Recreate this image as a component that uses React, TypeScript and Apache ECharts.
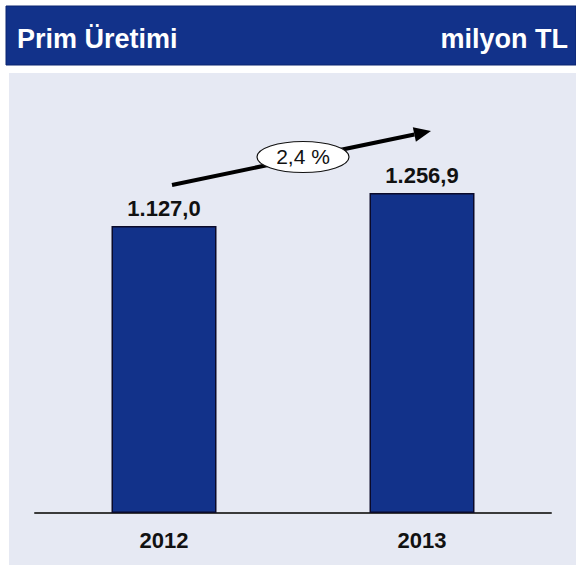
import React, { useEffect, useRef } from "react";
import * as echarts from "echarts";

const categories = ["2012", "2013"];
const values = [1127.0, 1256.9];
const valueLabels = ["1.127,0", "1.256,9"];
const titleText = "Prim Üretimi";
const unitText = "milyon TL";
const growthText = "2,4 %";

const NAVY = "#12328a";

export default function App() {
  const ref = useRef<HTMLDivElement>(null);
  useEffect(() => {
    if (!ref.current) return;
    const chart = echarts.init(ref.current, undefined, { renderer: "svg" });
    // arrow geometry (annotation)
    const sx = 172, sy = 185, tx = 431, ty = 131;
    const dx = tx - sx, dy = ty - sy;
    const len = Math.sqrt(dx * dx + dy * dy);
    const ux = dx / len, uy = dy / len;
    const nx = -uy, ny = ux;
    const headL = 17, headW = 7.5;
    const bx = tx - headL * ux, by = ty - headL * uy;
    chart.setOption({
      animation: false,
      backgroundColor: "#ffffff",
      grid: { left: 35, right: 25, top: 131, bottom: 54 },
      xAxis: {
        type: "category",
        data: categories,
        axisLine: { show: true, lineStyle: { color: "#3a3a3a", width: 2 } },
        axisTick: { show: false },
        axisLabel: {
          color: "#111111",
          fontFamily: "Liberation Sans, Arial, sans-serif",
          fontWeight: "bold",
          fontSize: 22,
          margin: 16,
        },
      },
      yAxis: {
        type: "value",
        min: 0,
        max: 1500,
        show: false,
        splitLine: { show: false },
      },
      graphic: [
        {
          type: "rect",
          z: -10,
          silent: true,
          shape: { x: 6, y: 6, width: 570, height: 59 },
          style: { fill: NAVY, stroke: "#0b2570", lineWidth: 1 },
        },
        {
          type: "text",
          z: 10,
          x: 17,
          y: 39,
          style: {
            text: titleText,
            fill: "#ffffff",
            font: "bold 27px 'Liberation Sans', Arial, sans-serif",
            textVerticalAlign: "middle",
            verticalAlign: "middle",
          },
        },
        {
          type: "text",
          z: 10,
          x: 568,
          y: 39,
          style: {
            text: unitText,
            fill: "#ffffff",
            font: "bold 27px 'Liberation Sans', Arial, sans-serif",
            align: "right",
            verticalAlign: "middle",
          },
        },
        {
          type: "rect",
          z: -10,
          silent: true,
          shape: { x: 9, y: 73, width: 567, height: 492 },
          style: { fill: "#e6e9f3" },
        },
        {
          type: "line",
          z: 20,
          shape: { x1: sx, y1: sy, x2: bx, y2: by },
          style: { stroke: "#000000", lineWidth: 4 },
        },
        {
          type: "polygon",
          z: 20,
          shape: {
            points: [
              [tx, ty],
              [bx + headW * nx, by + headW * ny],
              [bx - headW * nx, by - headW * ny],
            ],
          },
          style: { fill: "#000000" },
        },
        {
          type: "ellipse",
          z: 30,
          shape: { cx: 303, cy: 157, rx: 46, ry: 15.5 },
          style: { fill: "#ffffff", stroke: "#111111", lineWidth: 1.2 },
        },
        {
          type: "text",
          z: 31,
          x: 303,
          y: 156,
          style: {
            text: growthText,
            fill: "#111111",
            font: "21px 'Liberation Sans', Arial, sans-serif",
            align: "center",
            verticalAlign: "middle",
          },
        },
      ],
      series: [
        {
          type: "bar",
          data: values,
          barWidth: 105,
          itemStyle: { color: NAVY, borderColor: "#0a0a2a", borderWidth: 1.5 },
          label: {
            show: true,
            position: "top",
            distance: 6,
            color: "#111111",
            fontFamily: "Liberation Sans, Arial, sans-serif",
            fontWeight: "bold",
            fontSize: 22,
            formatter: (p: any) => valueLabels[p.dataIndex],
          },
        },
      ],
    });
    return () => chart.dispose();
  }, []);
  return (
    <div
      ref={ref}
      style={{ position: "absolute", left: 0, top: 0, width: 576, height: 567 }}
    />
  );
}
